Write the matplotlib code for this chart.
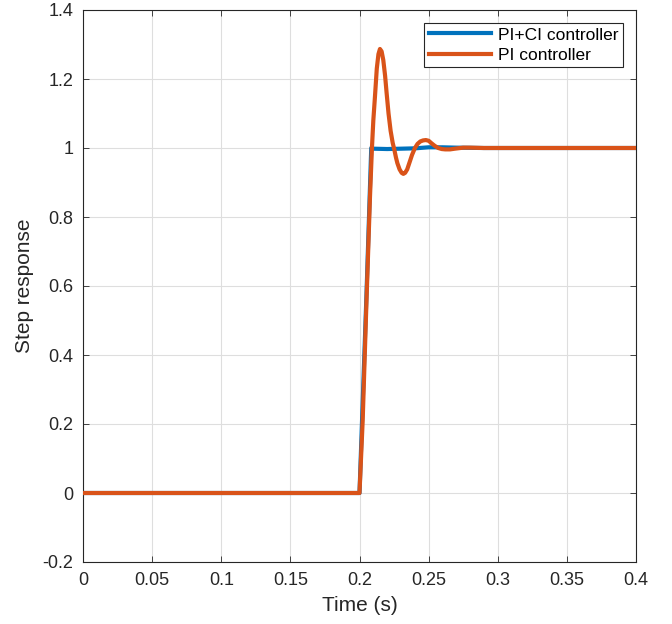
import matplotlib
matplotlib.use("Agg")
import matplotlib.pyplot as plt

plt.rcParams['font.family'] = ['Liberation Sans', 'DejaVu Sans']

# PI controller step response
t_pi = [0.0, 0.2, 0.2023, 0.2050, 0.2076, 0.2090, 0.2100, 0.2112, 0.2125, 0.2137,
        0.2148, 0.2160, 0.2172, 0.2185, 0.2196, 0.2210, 0.2225, 0.2240, 0.2252,
        0.2264, 0.2274, 0.2290, 0.2305, 0.2317, 0.2330, 0.2345, 0.2360, 0.2380,
        0.2401, 0.2420, 0.2440, 0.2460, 0.2480, 0.2500, 0.2520, 0.2545, 0.2570,
        0.2595, 0.2620, 0.2655, 0.2690, 0.2750, 0.2800, 0.2900, 0.4]
y_pi = [0.0, 0.0, 0.21, 0.55, 0.86, 1.00, 1.08, 1.15, 1.23, 1.272,
        1.287, 1.280, 1.255, 1.210, 1.160, 1.100, 1.050, 1.015, 0.995,
        0.972, 0.956, 0.938, 0.928, 0.925, 0.928, 0.938, 0.956, 0.980,
        1.000, 1.012, 1.019, 1.022, 1.023, 1.021, 1.014, 1.006, 1.000,
        0.997, 0.996, 0.996, 0.998, 1.001, 1.001, 1.000, 1.000]

# PI+CI controller step response
t_pici = [0.0, 0.2, 0.2050, 0.2085, 0.2100, 0.2200, 0.2300, 0.2400, 0.2500,
          0.2600, 0.2700, 0.2900, 0.4]
y_pici = [0.0, 0.0, 0.57, 1.0, 0.998, 0.997, 0.998, 0.999, 1.002,
          1.002, 1.001, 1.0, 1.0]

xticks = [0, 0.05, 0.1, 0.15, 0.2, 0.25, 0.3, 0.35, 0.4]
xlabels = ['0', '0.05', '0.1', '0.15', '0.2', '0.25', '0.3', '0.35', '0.4']
yticks = [-0.2, 0, 0.2, 0.4, 0.6, 0.8, 1.0, 1.2, 1.4]
ylabels = ['-0.2', '0', '0.2', '0.4', '0.6', '0.8', '1', '1.2', '1.4']

fig = plt.figure(figsize=(6.72, 6.24), dpi=100)
ax = fig.add_axes([83/672, 1-562/624, (636-83)/672, (562-10)/624])

ax.plot(t_pici, y_pici, color='#0072BD', lw=3.0, label='PI+CI controller', zorder=3)
ax.plot(t_pi, y_pi, color='#D95319', lw=3.0, label='PI controller', zorder=4)

ax.set_xlim(0, 0.4)
ax.set_ylim(-0.2, 1.4)
ax.set_xticks(xticks)
ax.set_xticklabels(xlabels)
ax.set_yticks(yticks)
ax.set_yticklabels(ylabels)
ax.grid(True, color='#dedede', lw=0.8)
ax.set_axisbelow(True)
ax.tick_params(direction='in', top=True, right=True, labelsize=13,
               colors='#262626', length=4, width=0.6)
ax.tick_params(axis='y', pad=7)
ax.tick_params(axis='x', pad=7)
for s in ax.spines.values():
    s.set_color('#262626')
    s.set_linewidth(0.8)
ax.set_xlabel('Time (s)', fontsize=15, color='#262626', labelpad=5)
ax.set_ylabel('Step response', fontsize=15, color='#262626', labelpad=6)

leg = ax.legend(loc='upper right', fontsize=12.5, frameon=True, fancybox=False,
                handlelength=3.6, borderaxespad=0.75, borderpad=0.25,
                labelspacing=0.3, handletextpad=0.4)
leg.get_frame().set_edgecolor('#262626')
leg.get_frame().set_linewidth(0.8)
leg.get_frame().set_alpha(1)

fig.savefig('out.png', dpi=100)
